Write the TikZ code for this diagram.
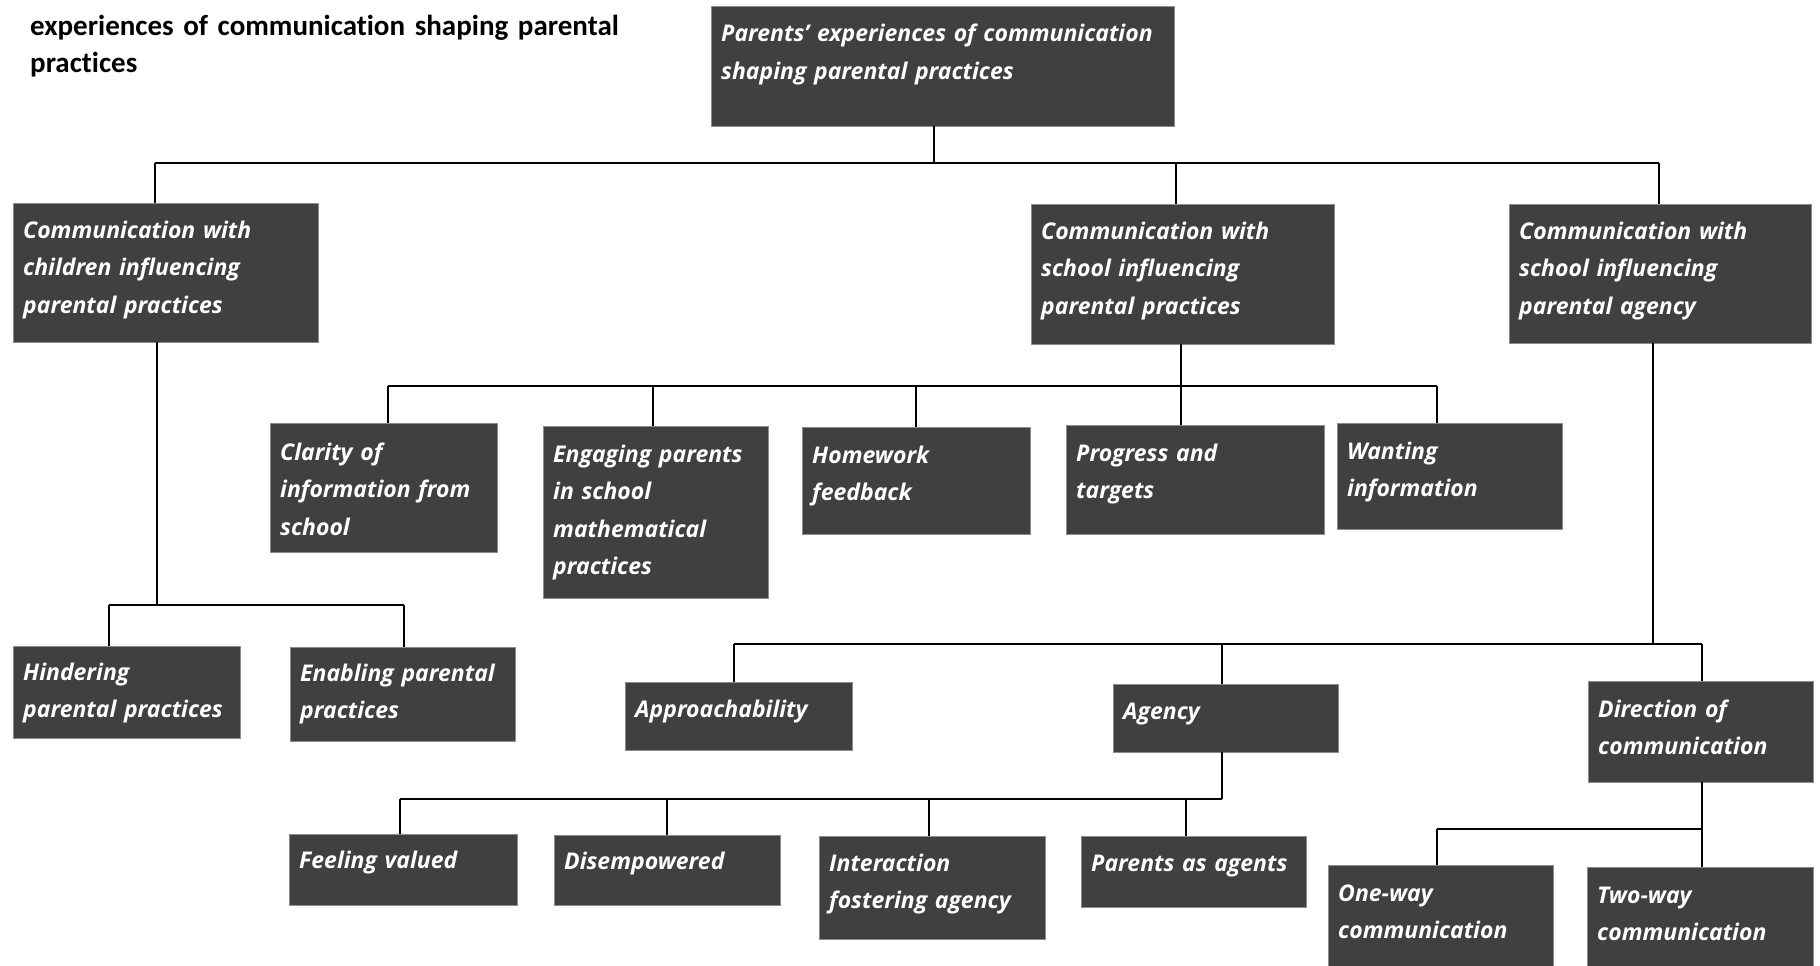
\documentclass[tikz,border=0pt]{standalone}
\usepackage{fontspec}
\setmainfont{Open Sans}
\newfontfamily\boxfont{Open Sans}
\newfontfamily\headfont[Ligatures=NoCommon]{Carlito}
\usetikzlibrary{calc}
\definecolor{boxfill}{HTML}{404040}
\definecolor{boxedge}{HTML}{8C8C8C}

% name, x, y, width, height, first-baseline offset, text
\newcommand\themebox[7]{%
  \node[themerect, minimum width=#4pt, minimum height=#5pt] (#1) at (#2,#3) {};
  \node[themetext, text width=#4pt] (#1-t) at ($(#1.north west)+(10,#6)$) {#7};}

\begin{document}
\begin{tikzpicture}[x=1pt, y=-1pt,
  themerect/.style={draw=boxedge, fill=boxfill, line width=1pt, anchor=north west,
    inner sep=0pt, outer sep=0pt},
  themetext/.style={anchor=base west, text=white, align=left, inner sep=0pt,
    font=\boxfont\bfseries\itshape\fontsize{23}{37.5}\selectfont},
  conn/.style={draw=black, line width=2pt}]
\useasboundingbox (0,0) rectangle (1820,966);

% heading
\node[anchor=base west, align=left, inner sep=0pt, text width=700pt,
  font=\headfont\bfseries\fontsize{29}{37}\selectfont] (head) at (30,36)
  {experiences of communication shaping parental\\practices};

% boxes
\themebox{root}{711}{7}{463}{119}{35}{Parents’ experiences of communication\\shaping parental practices}
\themebox{chi}{13}{203}{305}{139}{35}{Communication with\\children influencing\\parental practices}
\themebox{sch}{1031}{204}{303}{140}{35}{Communication with\\school influencing\\parental practices}
\themebox{agy}{1509}{204}{302}{139}{35}{Communication with\\school influencing\\parental agency}

\themebox{clar}{270}{423}{227}{129}{37}{Clarity of\\information from\\school}
\themebox{eng}{543}{426}{225}{172}{36}{Engaging parents\\in school\\mathematical\\practices}
\themebox{hw}{802}{427}{228}{107}{36}{Homework\\feedback}
\themebox{prog}{1066}{425}{258}{109}{36}{Progress and\\targets}
\themebox{want}{1337}{423}{225}{106}{36}{Wanting\\information}

\themebox{hind}{13}{646}{227}{92}{34}{Hindering\\parental practices}
\themebox{enab}{290}{647}{225}{94}{34}{Enabling parental\\practices}

\themebox{appr}{625}{682}{227}{68}{35}{Approachability}
\themebox{agen}{1113}{684}{225}{68}{35}{Agency}
\themebox{dir}{1588}{681}{225}{101}{36}{Direction of\\communication}

\themebox{feel}{289}{834}{228}{71}{34}{Feeling valued}
\themebox{dis}{554}{835}{226}{70}{34}{Disempowered}
\themebox{inter}{819}{836}{226}{103}{35}{Interaction\\fostering agency}
\themebox{pas}{1081}{836}{225}{71}{35}{Parents as agents}

\themebox{one}{1328}{865}{225}{110}{36}{One-way\\communication}
\themebox{two}{1587}{867}{226}{110}{36}{Two-way\\communication}

% top level
\coordinate (t0) at (934,163);
\coordinate (t1) at (155,163);
\coordinate (t2) at (1176,163);
\coordinate (t3) at (1659,163);
\draw[conn] (t1) -- (t3);
\draw[conn] (t0) -- (t0 |- root.south);
\draw[conn] (t1) -- (t1 |- chi.north);
\draw[conn] (t2) -- (t2 |- sch.north);
\draw[conn] (t3) -- (t3 |- agy.north);

% communication with children
\coordinate (c0) at (157,605);
\coordinate (c1) at (109,605);
\coordinate (c2) at (404,605);
\draw[conn] (c1) -- (c2);
\draw[conn] (c0) -- (c0 |- chi.south);
\draw[conn] (c1) -- (c1 |- hind.north);
\draw[conn] (c2) -- (c2 |- enab.north);

% communication with school: practices
\coordinate (s0) at (1181,386);
\coordinate (s1) at (388,386);
\coordinate (s2) at (653,386);
\coordinate (s3) at (916,386);
\coordinate (s4) at (1181,386);
\coordinate (s5) at (1437,386);
\draw[conn] (s1) -- (s5);
\draw[conn] (s0) -- (s0 |- sch.south);
\draw[conn] (s1) -- (s1 |- clar.north);
\draw[conn] (s2) -- (s2 |- eng.north);
\draw[conn] (s3) -- (s3 |- hw.north);
\draw[conn] (s4) -- (s4 |- prog.north);
\draw[conn] (s5) -- (s5 |- want.north);

% communication with school: agency
\coordinate (a0) at (1653,644);
\coordinate (a1) at (734,644);
\coordinate (a2) at (1222,644);
\coordinate (a3) at (1702,644);
\draw[conn] (a1) -- (a3);
\draw[conn] (a0) -- (a0 |- agy.south);
\draw[conn] (a1) -- (a1 |- appr.north);
\draw[conn] (a2) -- (a2 |- agen.north);
\draw[conn] (a3) -- (a3 |- dir.north);

% agency
\coordinate (g0) at (1222,799);
\coordinate (g1) at (400,799);
\coordinate (g2) at (667,799);
\coordinate (g3) at (929,799);
\coordinate (g4) at (1186,799);
\draw[conn] (g1) -- (g0);
\draw[conn] (g0) -- (g0 |- agen.south);
\draw[conn] (g1) -- (g1 |- feel.north);
\draw[conn] (g2) -- (g2 |- dis.north);
\draw[conn] (g3) -- (g3 |- inter.north);
\draw[conn] (g4) -- (g4 |- pas.north);

% direction of communication
\coordinate (d0) at (1702,829);
\coordinate (d1) at (1437,829);
\draw[conn] (d1) -- (d0);
\draw[conn] (d0) -- (d0 |- dir.south);
\draw[conn] (d1) -- (d1 |- one.north);
\draw[conn] (d0) -- (d0 |- two.north);
\end{tikzpicture}
\end{document}
